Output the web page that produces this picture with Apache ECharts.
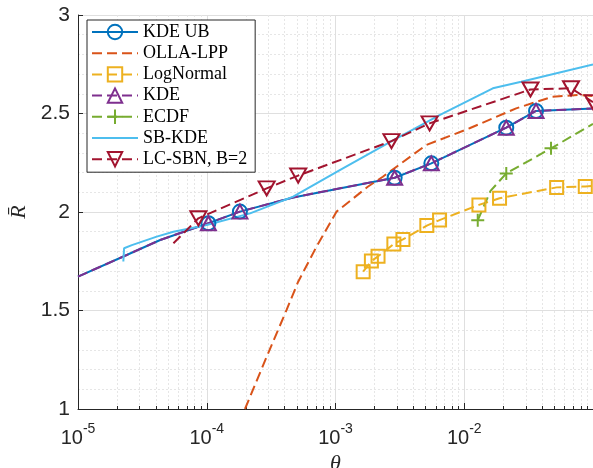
<!DOCTYPE html>
<html>
<head>
<meta charset="utf-8">
<script src="https://cdn.jsdelivr.net/npm/echarts@6/dist/echarts.min.js"></script>
<style>
html, body { margin: 0; padding: 0; background: #fff; }
#chart { width: 593px; height: 468px; }
</style>
</head>
<body>
<div id="chart"></div>
<script>
// theta (x, log) and R-bar (y) values
const kdeTheta = [1e-5, 2.25e-5, 4.35e-5, 1.03e-4, 1.81e-4, 4.69e-4, 2.88e-3, 5.55e-3, 0.0212, 0.0361, 0.1];
const kdeR = [1.672, 1.774, 1.858, 1.943, 2.002, 2.074, 2.174, 2.247, 2.428, 2.513, 2.525];
const kdeMarks = [3, 4, 6, 7, 8, 9];

const ollaTheta = [1.98e-4, 2.92e-4, 4.17e-4, 5.13e-4, 7.12e-4, 1.02e-3, 1.78e-3, 2.33e-3, 5.07e-3, 0.011, 0.0253, 0.0483, 0.0783, 0.1];
const ollaR = [1.0, 1.265, 1.503, 1.646, 1.824, 2.002, 2.128, 2.179, 2.34, 2.425, 2.526, 2.585, 2.594, 2.589];

const logNormTheta = [1.64e-3, 1.9e-3, 2.14e-3, 2.84e-3, 3.34e-3, 5.12e-3, 6.43e-3, 0.013, 0.0188, 0.0522, 0.0871, 0.1];
const logNormR = [1.697, 1.751, 1.775, 1.838, 1.861, 1.931, 1.959, 2.036, 2.07, 2.125, 2.13, 2.132];
const logNormMarks = [0, 1, 2, 3, 4, 5, 6, 7, 8, 9, 10];

const ecdfTheta = [0.01273, 0.016, 0.0212, 0.0472, 0.1];
const ecdfR = [1.958, 2.107, 2.196, 2.323, 2.447];
const ecdfMarks = [0, 2, 3];

const sbTheta = [2.25e-5, 2.28e-5, 2.62e-5, 4.09e-5, 5.51e-5, 1.0e-4, 2.17e-4, 4.69e-4, 1.08e-3, 2.73e-3, 6.43e-3, 0.01667, 0.0277, 0.1];
const sbR = [1.749, 1.816, 1.832, 1.875, 1.9, 1.934, 1.993, 2.078, 2.213, 2.36, 2.492, 2.628, 2.661, 2.749];

const lcTheta = [5.51e-5, 8.61e-5, 2.92e-4, 5.13e-4, 2.72e-3, 5.38e-3, 0.0327, 0.0675, 0.1];
const lcR = [1.841, 1.968, 2.12, 2.185, 2.36, 2.45, 2.622, 2.628, 2.558];
const lcMarks = [1, 2, 3, 4, 5, 6, 7, 8];

const legendNames = ['KDE UB', 'OLLA-LPP', 'LogNormal', 'KDE', 'ECDF', 'SB-KDE', 'LC-SBN, B=2'];

const minorX = [];
for (let d = -5; d <= -2; d++) {
    for (let k = 2; k <= 9; k++) minorX.push(k * Math.pow(10, d));
}

function points(theta, r, marks) {
    return theta.map(function (t, i) {
        const item = { value: [t, r[i]] };
        if (marks && marks.indexOf(i) < 0) item.symbol = 'none';
        return item;
    });
}

function lineSeries(name, data, color, dashed, symbol, size, rotate) {
    return {
        name: name,
        type: 'line',
        data: data,
        symbol: symbol || 'circle',
        symbolSize: symbol ? size : 0,
        symbolRotate: rotate || 0,
        showAllSymbol: true,
        lineStyle: { color: color, width: 2, type: dashed ? [10, 5] : 'solid' },
        itemStyle: { color: 'transparent', borderColor: color, borderWidth: symbol ? 2 : 0 },
        emphasis: { disabled: true },
        z: 3
    };
}

const chart = echarts.init(document.getElementById('chart'));

const option = {
    animation: false,
    backgroundColor: '#fff',
    grid: { left: 78, right: 0, top: 15, bottom: 59, containLabel: false, outerBoundsMode: 'none' },
    legend: {
        data: legendNames,
        orient: 'vertical',
        left: 87,
        top: 20,
        padding: [3, 8, 4, 4],
        itemWidth: 46,
        itemHeight: 18,
        itemGap: 3.2,
        backgroundColor: '#fff',
        borderColor: '#262626',
        borderWidth: 1,
        borderRadius: 0,
        selectedMode: false,
        textStyle: { fontFamily: 'Liberation Serif', fontSize: 18, lineHeight: 18, color: '#000' }
    },
    xAxis: {
        type: 'log',
        logBase: 10,
        min: 1e-5,
        max: 0.1,
        name: 'θ',
        nameLocation: 'middle',
        nameGap: 37,
        nameTextStyle: { fontFamily: 'Liberation Serif', fontStyle: 'italic', fontSize: 22, color: '#262626' },
        axisLine: { lineStyle: { color: '#262626', width: 1 } },
        axisTick: { inside: true, length: 6, lineStyle: { color: '#262626' } },
        axisLabel: {
            margin: 13,
            showMaxLabel: false,
            color: '#262626',
            formatter: function (v) {
                const e = Math.round(Math.log10(v));
                if (e > -2) return '';
                return '{b|10}{s|' + e + '}';
            },
            rich: {
                b: { fontFamily: 'Liberation Sans', fontSize: 20, lineHeight: 26, verticalAlign: 'bottom', color: '#262626' },
                s: { fontFamily: 'Liberation Sans', fontSize: 14, lineHeight: 13, verticalAlign: 'top', color: '#262626' }
            }
        },
        splitLine: { show: true, lineStyle: { color: '#dfdfdf', width: 1 } }
    },
    yAxis: {
        type: 'value',
        min: 1,
        max: 3,
        interval: 0.5,
        name: 'R\u0304',
        nameLocation: 'middle',
        nameGap: 47,
        nameRotate: 90,
        nameTextStyle: { fontFamily: 'Liberation Serif', fontStyle: 'italic', fontSize: 22, color: '#262626' },
        axisLine: { show: true, lineStyle: { color: '#262626', width: 1 } },
        axisTick: { show: true, inside: true, length: 5, lineStyle: { color: '#262626' } },
        axisLabel: { margin: 8, fontFamily: 'Liberation Sans', fontSize: 21, color: '#262626', showMinLabel: true, showMaxLabel: true },
        splitLine: { show: true, lineStyle: { color: '#dfdfdf', width: 1 } },
        minorTick: { show: false, splitNumber: 5 },
        minorSplitLine: { show: true, lineStyle: { color: '#e6e6e6', width: 1, type: [2, 2] } }
    },
    series: [
        {
            type: 'custom',
            name: 'minor',
            silent: true,
            z: 1,
            data: minorX.map(function (v) { return [v, 1]; }),
            renderItem: function (params, api) {
                const bot = api.coord([api.value(0), 1]);
                const top = api.coord([api.value(0), 3]);
                const x = Math.round(bot[0]) + 0.5;
                return {
                    type: 'group',
                    children: [
                        { type: 'line', shape: { x1: x, y1: bot[1], x2: x, y2: top[1] },
                          style: { stroke: '#e6e6e6', lineWidth: 1, lineDash: [2, 2] } },
                        { type: 'line', shape: { x1: x, y1: bot[1], x2: x, y2: bot[1] - 3 },
                          style: { stroke: '#262626', lineWidth: 1 } }
                    ]
                };
            }
        },
        lineSeries('KDE UB', points(kdeTheta, kdeR, kdeMarks), '#0072BD', false, 'circle', 14),
        lineSeries('OLLA-LPP', points(ollaTheta, ollaR), '#D95319', true),
        lineSeries('LogNormal', points(logNormTheta, logNormR, logNormMarks), '#EDB120', true, 'rect', 13),
        lineSeries('KDE', points(kdeTheta, kdeR, kdeMarks), '#7E2F8E', true, 'triangle', [15, 14]),
        lineSeries('ECDF', points(ecdfTheta, ecdfR, ecdfMarks), '#77AC30', true, 'path://M6,0V12M0,6H12', 13),
        lineSeries('SB-KDE', points(sbTheta, sbR), '#4DBEEE', false),
        lineSeries('LC-SBN, B=2', points(lcTheta, lcR, lcMarks), '#A2142F', true, 'triangle', [16, 14], 180)
    ]
};

chart.setOption(option);
</script>
</body>
</html>
